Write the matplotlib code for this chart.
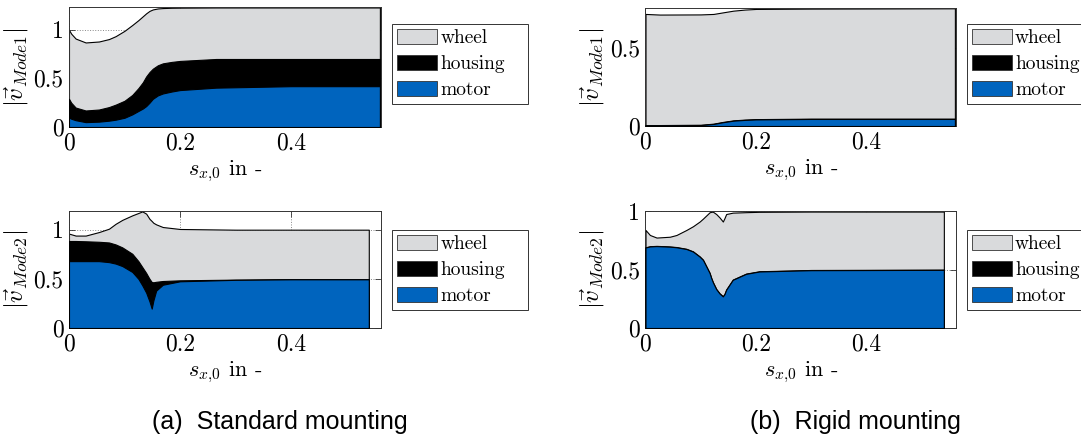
import numpy as np
import matplotlib
matplotlib.use("Agg")
import matplotlib.pyplot as plt
from matplotlib.patches import Patch

# ── DATA (cumulative tops of each stacked layer) ──────────────────────────────
LABELS = ["wheel", "housing", "motor"]
COLORS = {"wheel": "#d9dadc", "housing": "#000000", "motor": "#0064be"}

# (a) Standard mounting, mode 1
a1_x       = [0, 0.004, 0.012, 0.03, 0.054, 0.072, 0.084, 0.1, 0.114, 0.125, 0.133, 0.139, 0.145, 0.151, 0.16, 0.169, 0.185, 0.2, 0.265, 0.4, 0.56]
a1_motor   = [0.097, 0.085, 0.07, 0.05, 0.055, 0.065, 0.075, 0.095, 0.13, 0.165, 0.19, 0.215, 0.25, 0.29, 0.325, 0.345, 0.365, 0.38, 0.405, 0.42, 0.42]
a1_housing = [0.29, 0.25, 0.2, 0.17, 0.18, 0.205, 0.23, 0.27, 0.33, 0.40, 0.46, 0.52, 0.565, 0.60, 0.635, 0.655, 0.67, 0.68, 0.70, 0.70, 0.70]
a1_wheel   = [1.0, 0.96, 0.91, 0.87, 0.88, 0.905, 0.935, 0.99, 1.05, 1.10, 1.14, 1.17, 1.195, 1.21, 1.22, 1.224, 1.227, 1.228, 1.23, 1.23, 1.23]

# (a) Standard mounting, mode 2
a2_x       = [0, 0.012, 0.03, 0.054, 0.072, 0.084, 0.096, 0.114, 0.125, 0.132, 0.139, 0.145, 0.149, 0.152, 0.157, 0.169, 0.2, 0.3, 0.4, 0.54]
a2_motor   = [0.68, 0.68, 0.68, 0.68, 0.67, 0.655, 0.63, 0.57, 0.5, 0.434, 0.36, 0.27, 0.197, 0.28, 0.38, 0.44, 0.475, 0.49, 0.495, 0.495]
a2_housing = [0.885, 0.885, 0.882, 0.877, 0.87, 0.85, 0.82, 0.755, 0.68, 0.62, 0.56, 0.5, 0.468, 0.465, 0.47, 0.478, 0.485, 0.492, 0.497, 0.497]
a2_wheel   = [0.96, 0.94, 0.94, 0.976, 1.01, 1.06, 1.1, 1.146, 1.17, 1.186, 1.163, 1.11, 1.088, 1.07, 1.054, 1.027, 1.007, 1.0, 1.0, 1.0]

# (b) Rigid mounting, mode 1
b1_x       = [0, 0.026, 0.1, 0.123, 0.14, 0.159, 0.18, 0.2, 0.3, 0.56]
b1_motor   = [0.004, 0.004, 0.006, 0.013, 0.024, 0.034, 0.039, 0.042, 0.045, 0.045]
b1_housing = [0.006, 0.006, 0.008, 0.015, 0.026, 0.036, 0.041, 0.044, 0.047, 0.047]
b1_wheel   = [0.716, 0.712, 0.713, 0.716, 0.726, 0.737, 0.744, 0.748, 0.75, 0.752]

# (b) Rigid mounting, mode 2
b2_x       = [0, 0.008, 0.02, 0.044, 0.056, 0.074, 0.086, 0.098, 0.104, 0.116, 0.119, 0.122, 0.128, 0.134, 0.14, 0.143, 0.146, 0.158, 0.182, 0.206, 0.3, 0.54]
b2_motor   = [0.688, 0.697, 0.70, 0.695, 0.69, 0.675, 0.653, 0.61, 0.582, 0.47, 0.426, 0.39, 0.332, 0.295, 0.27, 0.29, 0.327, 0.412, 0.463, 0.483, 0.494, 0.497]
b2_housing = [0.690, 0.699, 0.702, 0.697, 0.692, 0.677, 0.655, 0.612, 0.584, 0.472, 0.428, 0.392, 0.334, 0.297, 0.272, 0.292, 0.329, 0.414, 0.465, 0.485, 0.496, 0.499]
b2_wheel   = [0.838, 0.795, 0.773, 0.78, 0.795, 0.838, 0.87, 0.91, 0.935, 0.989, 0.993, 0.994, 0.974, 0.945, 0.91, 0.94, 0.974, 0.986, 0.99, 0.993, 0.995, 0.995]

# ── STYLE ─────────────────────────────────────────────────────────────────────
plt.rcParams["font.family"] = "serif"
plt.rcParams["font.serif"] = ["cmr10"]
plt.rcParams["mathtext.fontset"] = "cm"
plt.rcParams["axes.formatter.use_mathtext"] = True
plt.rcParams["axes.unicode_minus"] = False

fig = plt.figure(figsize=(10.81, 4.41), dpi=100)
W, H = 1081, 441


def px_axes(left, right, top, bottom):
    return fig.add_axes([left / W, 1 - bottom / H, (right - left) / W, (bottom - top) / H])


def panel(ax, x, motor, housing, wheel, ylim, yticks, ylabel, leg_top):
    ax.set_axisbelow(True)
    ax.grid(True, linestyle=":", color="#888888", linewidth=0.7)
    ax.fill_between(x, 0, wheel, facecolor=COLORS["wheel"], edgecolor="black", linewidth=0.8, zorder=2)
    ax.fill_between(x, 0, housing, facecolor=COLORS["housing"], edgecolor="black", linewidth=0.8, zorder=3)
    ax.fill_between(x, 0, motor, facecolor=COLORS["motor"], edgecolor="black", linewidth=0.8, zorder=4)
    ax.set_xlim(0, 0.562)
    ax.set_ylim(*ylim)
    ax.set_xticks([0, 0.2, 0.4])
    ax.set_xticklabels(["0", "0.2", "0.4"])
    ax.set_yticks(yticks)
    ax.set_yticklabels([("%g" % t) for t in yticks])
    ax.tick_params(direction="in", top=True, right=True, length=4, width=0.6,
                   labelsize=17, color="#333333", pad=4)
    for s in ax.spines.values():
        s.set_color("#333333")
        s.set_linewidth(0.7)
    ax.set_xlabel(r"$s_{x{,}0}$ in -", fontsize=16, labelpad=3)
    ax.set_ylabel(ylabel, fontsize=18, labelpad=2)

    # legend box in pixel terms: 136 px wide, 79 px tall, placed right of axes
    bb = ax.get_position()
    w_ax = 136 / (bb.width * W)
    h_ax = 79 / (bb.height * H)
    handles = [Patch(facecolor=COLORS[k], edgecolor="#333333", linewidth=0.6) for k in LABELS]
    leg = ax.legend(handles, LABELS, loc="upper left",
                    bbox_to_anchor=(1.035, leg_top - h_ax, w_ax, h_ax), mode="expand",
                    borderaxespad=0, fontsize=14, handlelength=2.06, handleheight=0.85,
                    handletextpad=0.17, labelspacing=0.38, borderpad=0.25,
                    fancybox=False, framealpha=1, edgecolor="#333333")
    leg.get_frame().set_linewidth(0.7)


ax1 = px_axes(69, 381, 7, 127)
panel(ax1, a1_x, a1_motor, a1_housing, a1_wheel, (0, 1.235), [0, 0.5, 1],
      r"$|\vec{v}_{Mode1}|$", (127 - 24) / 120)

ax2 = px_axes(69, 381, 211, 328)
panel(ax2, a2_x, a2_motor, a2_housing, a2_wheel, (0, 1.19), [0, 0.5, 1],
      r"$|\vec{v}_{Mode2}|$", (328 - 230) / 117)

ax3 = px_axes(645.5, 956, 8, 126)
panel(ax3, b1_x, b1_motor, b1_housing, b1_wheel, (0, 0.754), [0, 0.5],
      r"$|\vec{v}_{Mode1}|$", (126 - 24) / 118)

ax4 = px_axes(645.5, 956, 211, 328)
panel(ax4, b2_x, b2_motor, b2_housing, b2_wheel, (0, 1.0), [0, 0.5, 1],
      r"$|\vec{v}_{Mode2}|$", (328 - 230) / 117)

fig.text(280 / W, 1 - 422 / H, "(a)  Standard mounting", ha="center", va="center",
         fontsize=18, family="Liberation Sans")
fig.text(855 / W, 1 - 422 / H, "(b)  Rigid mounting", ha="center", va="center",
         fontsize=18, family="Liberation Sans")

fig.savefig("out.png", dpi=100)
